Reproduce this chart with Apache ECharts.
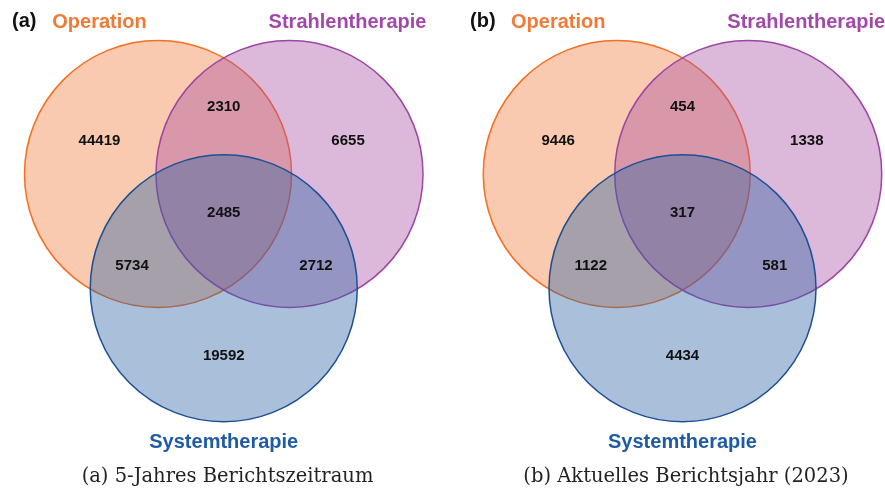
<!DOCTYPE html>
<html>
<head>
<meta charset="utf-8">
<script src="https://cdn.jsdelivr.net/npm/echarts@6/dist/echarts.min.js"></script>
<style>
  html, body { margin: 0; padding: 0; background: #fff; }
  #main { width: 885px; height: 492px; }
</style>
</head>
<body>
<div id="main"></div>
<script>
// set names and region counts (order: O, S, Y, O∩S, O∩Y, S∩Y, O∩S∩Y)
const sets = ["Operation", "Strahlentherapie", "Systemtherapie"];
const countsA = [44419, 6655, 19592, 2310, 5734, 2712, 2485];
const countsB = [9446, 1338, 4434, 454, 1122, 581, 317];
const panelTags = ["(a)", "(b)"];
const captions = ["(a) 5-Jahres Berichtszeitraum", "(b) Aktuelles Berichtsjahr (2023)"];

// venn layout in circle-radius units
const circlePos = [[-0.4925, 0], [0.4925, 0], [0, -0.856]];
const regionPos = [
  [-0.931, 0.247], [0.931, 0.247], [0, -1.363],
  [0, 0.502], [-0.687, -0.689], [0.691, -0.689], [0, -0.292]
];
const setLabelPos = [[-0.931, 1.135], [0.927, 1.135], [0, -2.01]];

const fills = ["rgba(240,122,55,0.4)", "rgba(168,78,163,0.4)", "rgba(42,98,163,0.4)"];
const strokes = ["#F36F21", "#9E44A5", "#1D4F94"];
const textColors = ["#F07A36", "#A149A8", "#1F5AA5"];

const sans = "'Liberation Sans', Arial, sans-serif";

const chart = echarts.init(document.getElementById("main"));

const unit = 133.5;
const gridLefts = [23.5, 482.25];

const grids = gridLefts.map((l) => ({
  left: l, top: 0.45, width: 3 * unit, height: 3.5 * unit
}));
const xAxes = grids.map((g, i) => ({
  type: "value", gridIndex: i, min: -1.5, max: 1.5, show: false
}));
const yAxes = grids.map((g, i) => ({
  type: "value", gridIndex: i, min: -2.2, max: 1.3, show: false
}));

function circleSeries(i) {
  return {
    type: "custom",
    xAxisIndex: i, yAxisIndex: i,
    silent: true,
    data: circlePos.map((p, k) => [p[0], p[1], 1, k]),
    renderItem: function (params, api) {
      const c = api.coord([api.value(0), api.value(1)]);
      const r = api.size([api.value(2), 0])[0];
      const k = api.value(3);
      return {
        type: "circle",
        shape: { cx: c[0], cy: c[1], r: r },
        style: { fill: fills[k], stroke: strokes[k], lineWidth: 1.5 }
      };
    }
  };
}

function textSeries(i, items) {
  return {
    type: "custom",
    xAxisIndex: i, yAxisIndex: i,
    silent: true,
    data: items.map((d) => [d.x, d.y]),
    renderItem: function (params, api) {
      const d = items[params.dataIndex];
      const c = api.coord([api.value(0), api.value(1)]);
      return {
        type: "text",
        x: c[0], y: c[1],
        style: {
          text: d.text, fill: d.color, font: d.font,
          align: "center", verticalAlign: "middle"
        }
      };
    }
  };
}

const series = [];
[countsA, countsB].forEach((counts, i) => {
  series.push(circleSeries(i));
  series.push(textSeries(i, counts.map((v, k) => ({
    x: regionPos[k][0], y: regionPos[k][1], text: String(v),
    color: "#111", font: "bold 15px " + sans
  }))));
  series.push(textSeries(i, sets.map((s, k) => ({
    x: setLabelPos[k][0], y: setLabelPos[k][1], text: s,
    color: textColors[k], font: "bold 20px " + sans
  }))));
});

const graphic = [];
panelTags.forEach((t, i) => {
  graphic.push({
    type: "text", x: [12, 470][i], y: 21,
    style: { text: t, fill: "#111", font: "bold 20px " + sans, verticalAlign: "middle" }
  });
});
captions.forEach((t, i) => {
  graphic.push({
    type: "text", x: [227.5, 686][i], y: 477,
    style: { text: t, fill: "#222", font: "19.5px 'DejaVu Serif', serif", align: "center", verticalAlign: "middle" }
  });
});

chart.setOption({
  animation: false,
  grid: grids,
  xAxis: xAxes,
  yAxis: yAxes,
  graphic: graphic,
  series: series
});
</script>
</body>
</html>
